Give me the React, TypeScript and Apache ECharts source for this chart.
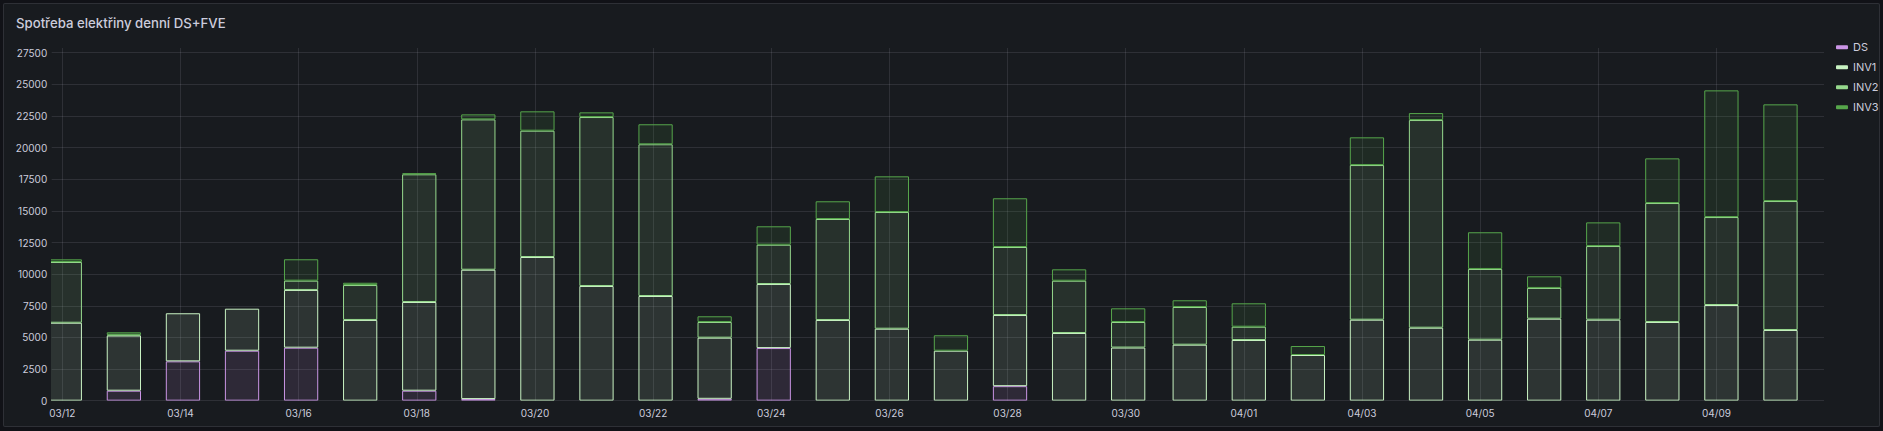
import React, { useEffect, useRef } from "react";
import * as echarts from "echarts";

const dates = [
  "03/12", "03/13", "03/14", "03/15", "03/16", "03/17", "03/18", "03/19", "03/20", "03/21",
  "03/22", "03/23", "03/24", "03/25", "03/26", "03/27", "03/28", "03/29", "03/30", "03/31",
  "04/01", "04/02", "04/03", "04/04", "04/05", "04/06", "04/07", "04/08", "04/09", "04/10",
];

const ds = [0, 790, 3110, 3950, 4190, 0, 790, 130, 0, 0, 0, 150, 4160, 0, 0, 0, 1150, 0, 0, 0, 0, 0, 0, 0, 0, 0, 0, 0, 0, 0];
const inv1 = [6160, 4360, 3800, 3320, 4560, 6380, 7010, 10220, 11355, 9064, 8273, 4830, 5060, 6377, 5689, 3950, 5620, 5350, 4200, 4425, 4796, 3611, 6401, 5768, 4820, 6480, 6401, 6219, 7562, 5587];
const inv2 = [4800, 65, 0, 0, 735, 2760, 10090, 11880, 9980, 13350, 11990, 1240, 3105, 7980, 9220, 0, 5375, 4130, 2020, 2980, 1050, 0, 12220, 16410, 5590, 2430, 5820, 9400, 6950, 10190];
const inv3 = [210, 190, 0, 0, 1690, 180, 80, 395, 1530, 370, 1580, 450, 1455, 1400, 2820, 1220, 3850, 900, 1080, 530, 1850, 710, 2190, 550, 2900, 920, 1870, 3530, 10010, 7640];

const seriesNames = ["DS", "INV1", "INV2", "INV3"];
const seriesColors = ["#CA95E5", "#C8F2C2", "#96D98D", "#56A64B"];
const yTickStep = 2500;

// data points are stamped at UTC midnight; the axis grid is local (CET, then CEST from 03/31)
const dstStart = dates.indexOf("03/31");

const TEXT = "#ccccdc";
const GRID = "rgba(204,204,220,0.12)";
const FONT = "Inter, 'Noto Sans', sans-serif";

function hexToRgba(hex: string, a: number) {
  const n = parseInt(hex.slice(1), 16);
  return `rgba(${(n >> 16) & 255},${(n >> 8) & 255},${n & 255},${a})`;
}

export default function App() {
  const ref = useRef<HTMLDivElement>(null);

  useEffect(() => {
    document.body.style.margin = "0";
    document.body.style.background = "#111217";
    if (!ref.current) return;
    const chart = echarts.init(ref.current, undefined, { renderer: "svg" });

    const layers = [ds, inv1, inv2, inv3];
    const cum: number[][] = [];
    layers.forEach((arr, k) => {
      cum.push(arr.map((v, i) => (k === 0 ? 0 : cum[k - 1][i] + layers[k - 1][i])));
    });

    const renderItem = (color: string) => (params: any, api: any) => {
      const x = api.value(0);
      const b = api.value(1);
      const t = api.value(2);
      if (!(t - b > 0)) return null;
      const p0 = api.coord([x, b]);
      const p1 = api.coord([x, t]);
      const w = api.size([0.58, 0])[0];
      const top = Math.min(p1[1] + 0.5, p0[1] - 0.5);
      const h = Math.max(0, p0[1] - 0.5 - top);
      return {
        type: "rect",
        shape: { x: p0[0] - w / 2 + 0.5, y: top, width: w - 1, height: h },
        style: { fill: hexToRgba(color, 0.12), stroke: color, lineWidth: 1 },
      };
    };

    const series = seriesNames.map((name, k) => ({
      type: "custom",
      name,
      clip: true,
      renderItem: renderItem(seriesColors[k]),
      itemStyle: { color: seriesColors[k] },
      encode: { x: 0, y: [1, 2] },
      data: dates.map((_, i) => [
        i + (i >= dstStart ? 2 : 1) / 24,
        cum[k][i],
        cum[k][i] + layers[k][i],
      ]),
    }));

    chart.setOption({
      animation: false,
      backgroundColor: "transparent",
      textStyle: { fontFamily: FONT },
      title: {
        text: "Spotřeba elektřiny denní DS+FVE",
        left: 11,
        top: 11,
        textStyle: { color: TEXT, fontSize: 13.2, fontWeight: 500, fontFamily: FONT },
      },
      legend: {
        orient: "vertical",
        left: 1836,
        top: 40.3,
        padding: 0,
        itemWidth: 12,
        itemHeight: 4,
        itemGap: 6,
        icon: "roundRect",
        selectedMode: false,
        textStyle: { color: TEXT, fontSize: 11, lineHeight: 14, fontFamily: FONT },
        data: seriesNames,
      },
      grid: { left: 51.7, right: 59, top: 48, bottom: 30.3, containLabel: false, outerBoundsMode: "none" },
      xAxis: {
        type: "value",
        min: -0.18,
        max: 29.82,
        minInterval: 2,
        maxInterval: 2,
        splitNumber: 15,
        axisLine: { show: false },
        axisTick: { show: false },
        splitLine: { show: true, showMinLine: false, showMaxLine: false, lineStyle: { color: GRID, width: 1 } },
        axisLabel: {
          showMinLabel: false,
          showMaxLabel: false,
          color: TEXT,
          fontSize: 10,
          margin: 7,
          fontFamily: FONT,
          formatter: (v: number) => (Number.isInteger(v) && dates[v] ? dates[v] : ""),
        },
      },
      yAxis: {
        type: "value",
        min: 0,
        max: 27870,
        interval: yTickStep,
        axisLine: { show: false },
        axisTick: { show: false },
        splitLine: { show: true, showMaxLine: false, lineStyle: { color: GRID, width: 1 } },
        axisLabel: {
          showMaxLabel: false,
          color: TEXT,
          fontSize: 10,
          margin: 4.5,
          fontFamily: FONT,
          formatter: (v: number) => String(v),
        },
      },
      series,
    });

    return () => chart.dispose();
  }, []);

  return (
    <div style={{ position: "absolute", left: 0, top: 0, width: 1883, height: 431, background: "#111217", overflow: "hidden" }}>
      <div
        style={{
          position: "absolute",
          left: 3,
          top: 3,
          width: 1877,
          height: 424,
          boxSizing: "border-box",
          background: "#181b1f",
          border: "1px solid rgba(204,204,220,0.12)",
          borderRadius: 2,
        }}
      />
      <div ref={ref} style={{ position: "absolute", left: 0, top: 0, width: 1883, height: 431 }} />
    </div>
  );
}
